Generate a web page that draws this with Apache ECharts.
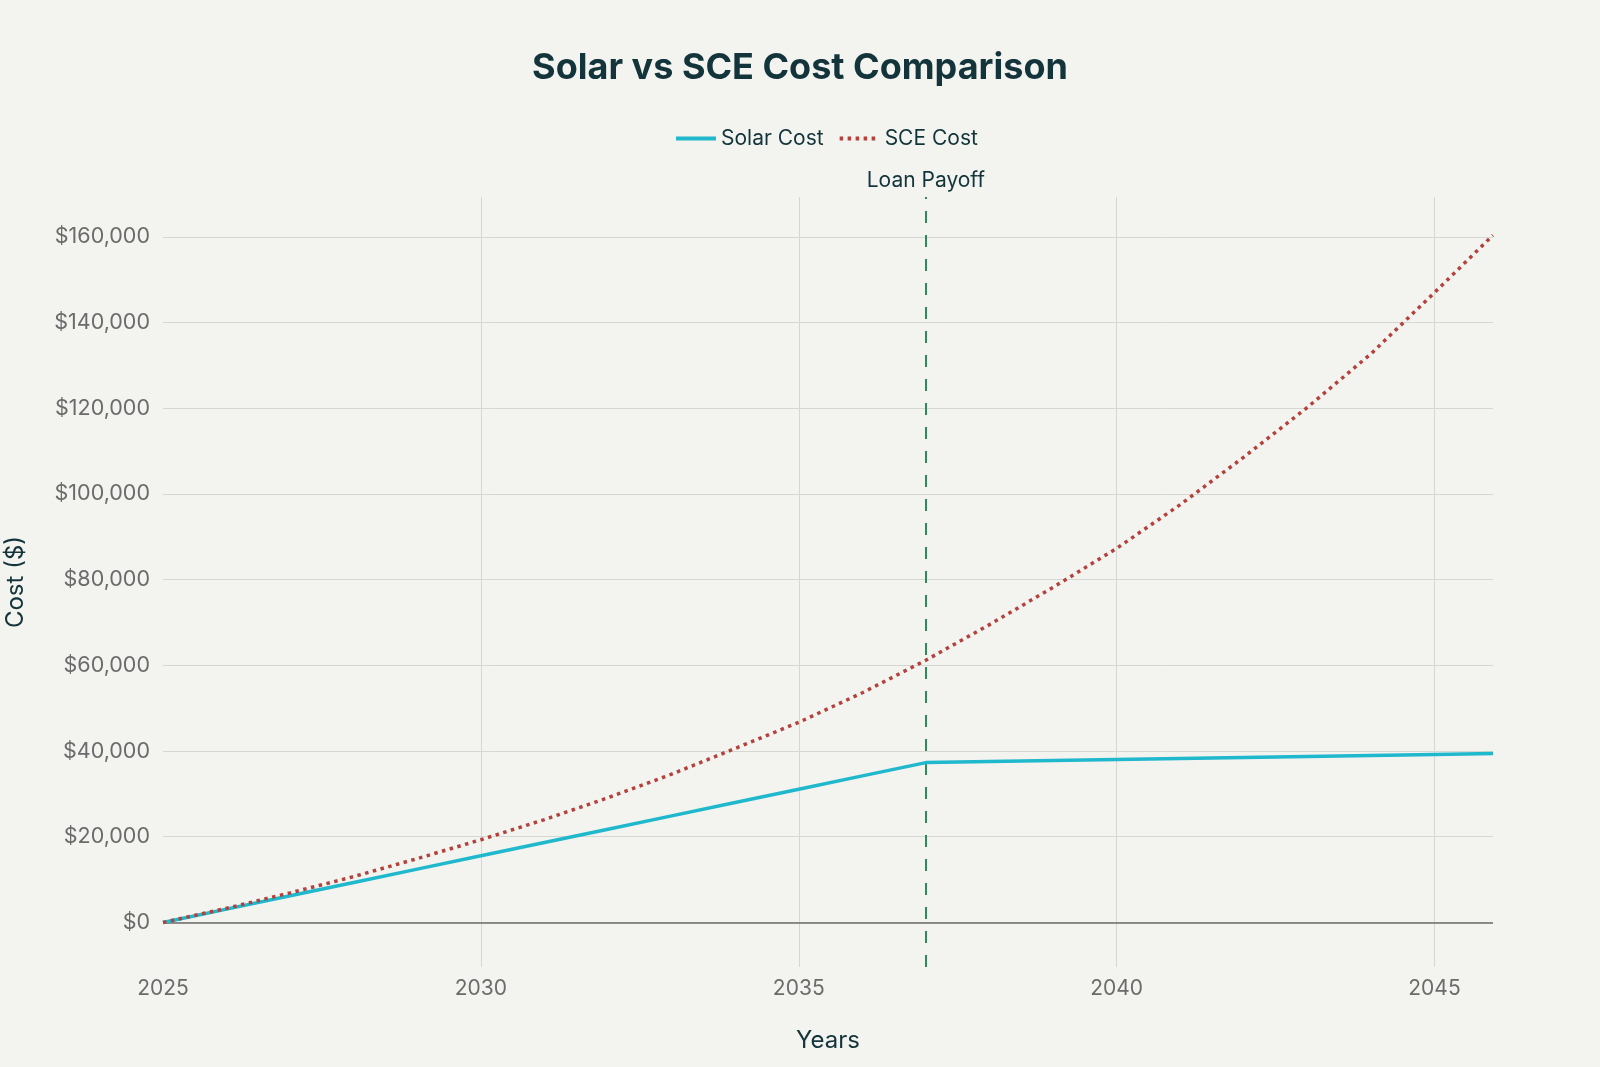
<!DOCTYPE html>
<html>
<head>
<meta charset="utf-8">
<script src="https://cdn.jsdelivr.net/npm/echarts@6/dist/echarts.min.js"></script>
<style>
html,body{margin:0;padding:0;background:#f3f3ef;}
#chart{width:1600px;height:1067px;}
</style>
</head>
<body>
<div id="chart"></div>
<script>
// Data
const years = [2025, 2026, 2027, 2028, 2029, 2030, 2031, 2032, 2033, 2034, 2035, 2036, 2037, 2038, 2039, 2040, 2041, 2042, 2043, 2044, 2045, 2045.92];
const solarCost = [0, 3110, 6220, 9330, 12440, 15550, 18650, 21760, 24870, 27980, 31090, 34200, 37300, 37540, 37780, 38020, 38260, 38500, 38740, 38980, 39220, 39440];
const sceCost = [0, 3300, 6900, 10700, 14900, 19300, 24000, 29100, 34600, 40600, 46700, 53600, 61200, 69500, 78200, 87300, 97500, 108600, 120200, 132700, 147000, 160400];
const loanPayoffYear = 2037;
const seriesNames = ['Solar Cost', 'SCE Cost'];

const FONT = 'Inter, "Noto Sans", sans-serif';
const chart = echarts.init(document.getElementById('chart'));

const option = {
  backgroundColor: '#f3f3ef',
  animation: false,
  title: {
    text: 'Solar vs SCE Cost Comparison',
    left: 'center',
    top: 45,
    textStyle: { fontFamily: FONT, fontSize: 36, fontWeight: 'bold', color: '#13343B' }
  },
  legend: {
    top: 123,
    left: 669,
    itemWidth: 40,
    itemHeight: 14,
    itemGap: 14,
    itemStyle: { opacity: 0 },
    lineStyle: { width: 4 },
    textStyle: { fontFamily: FONT, fontSize: 21, color: '#13343B' },
    data: seriesNames
  },
  grid: { left: 163, right: 107, top: 197, bottom: 100, containLabel: false, outerBoundsMode: 'none' },
  xAxis: {
    type: 'value',
    min: 2025,
    max: years[years.length - 1],
    interval: 5,
    name: 'Years',
    nameLocation: 'middle',
    nameGap: 62,
    nameTextStyle: { fontFamily: FONT, fontSize: 24, color: '#13343B' },
    axisLine: { show: false },
    axisTick: { show: false },
    axisLabel: {
      fontFamily: FONT, fontSize: 21, color: '#6b6b6b', margin: 11,
      showMaxLabel: false,
      formatter: v => String(v)
    },
    splitLine: { show: true, showMinLine: false, showMaxLine: false, lineStyle: { color: '#d6d6d2', width: 1 } }
  },
  yAxis: {
    type: 'value',
    min: -10400,
    max: 169300,
    minInterval: 20000,
    maxInterval: 20000,
    name: 'Cost ($)',
    nameLocation: 'middle',
    nameGap: 135,
    nameRotate: 90,
    nameTextStyle: { fontFamily: FONT, fontSize: 24, color: '#13343B' },
    axisLine: { show: false },
    axisTick: { show: false },
    axisLabel: {
      fontFamily: FONT, fontSize: 21.5, color: '#6b6b6b', margin: 13,
      showMinLabel: false, showMaxLabel: false,
      formatter: v => (v % 20000 === 0) ? '$' + v.toLocaleString('en-US') : ''
    },
    splitLine: { show: true, showMinLine: false, showMaxLine: false, lineStyle: { color: '#d6d6d2', width: 1 } }
  },
  series: [
    {
      name: seriesNames[0],
      type: 'line',
      data: years.map((y, i) => [y, solarCost[i]]),
      showSymbol: false,
      symbol: 'none',
      z: 3,
      lineStyle: { color: '#1FB8CD', width: 3.5 },
      itemStyle: { color: '#1FB8CD' },
      markLine: {
        silent: true,
        symbol: 'none',
        z: 1,
        data: [
          {
            yAxis: 0,
            lineStyle: { color: '#6b6b6b', width: 1.5, type: 'solid' },
            label: { show: false }
          },
          {
            xAxis: loanPayoffYear,
            lineStyle: { color: '#2E8B57', width: 2, type: [12, 12] },
            label: {
              show: true, position: 'end', distance: 6,
              formatter: 'Loan Payoff',
              fontFamily: FONT, fontSize: 21, color: '#13343B'
            }
          }
        ]
      }
    },
    {
      name: seriesNames[1],
      type: 'line',
      data: years.map((y, i) => [y, sceCost[i]]),
      showSymbol: false,
      symbol: 'none',
      z: 4,
      lineStyle: { color: '#B4413C', width: 3.5, type: [3.5, 4.5] },
      itemStyle: { color: '#B4413C' }
    }
  ]
};
chart.setOption(option);
</script>
</body>
</html>
